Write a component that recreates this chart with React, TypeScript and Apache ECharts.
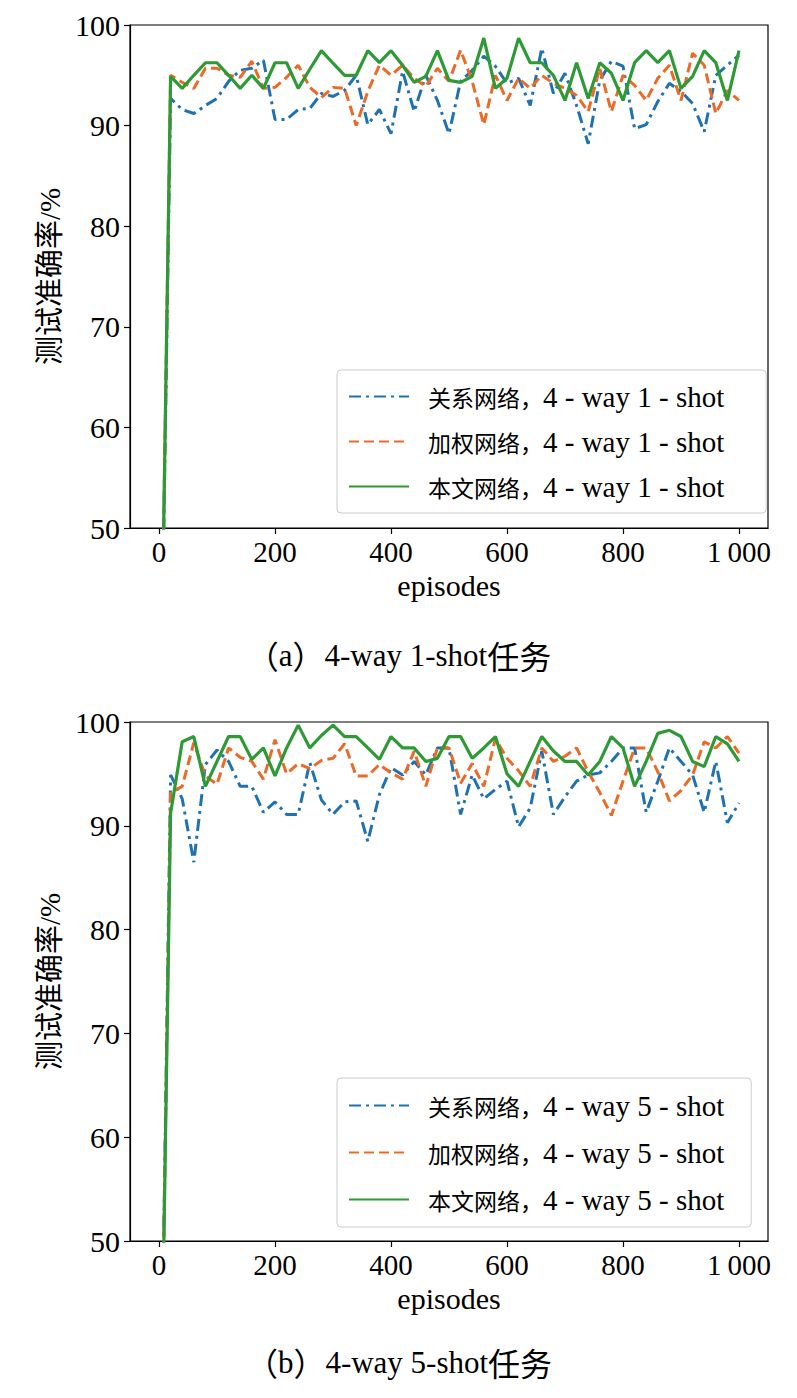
import { useEffect, useRef } from "react";
import * as echarts from "echarts";

const episodes = [
  0, 20, 40, 60, 80, 100, 120, 140, 160, 180, 200, 220, 240, 260, 280, 300, 320, 340, 360, 380,
  400, 420, 440, 460, 480, 500, 520, 540, 560, 580, 600, 620, 640, 660, 680, 700, 720, 740, 760,
  780, 800, 820, 840, 860, 880, 900, 920, 940, 960, 980, 1000,
];

// (a) 4-way 1-shot
const relation1 = [
  20, 92.7, 91.6, 91.2, 92.0, 92.7, 94.4, 95.5, 95.7, 96.5, 90.6, 90.6, 91.6, 91.7, 93.2, 92.9,
  93.5, 95.0, 90.1, 91.6, 89.2, 95.4, 91.4, 95.0, 92.5, 89.2, 94.4, 95.5, 96.9, 95.9, 94.2, 94.7,
  92.0, 97.7, 93.2, 95.2, 92.0, 88.2, 94.5, 96.4, 95.9, 89.7, 90.1, 92.4, 94.2, 93.4, 92.2, 89.4,
  95.0, 96.0, 97.0,
];
const weighted1 = [
  20, 95.0, 94.3, 93.7, 95.7, 95.7, 95.0, 94.8, 96.4, 93.7, 93.8, 94.8, 96.0, 93.8, 92.8, 93.8,
  93.7, 90.0, 93.4, 96.0, 95.0, 96.0, 94.7, 93.9, 95.7, 94.4, 97.5, 94.4, 90.1, 95.0, 92.5, 94.7,
  93.7, 95.0, 94.2, 93.7, 93.0, 91.4, 95.7, 91.4, 95.0, 94.0, 92.5, 94.7, 96.0, 92.5, 97.2, 96.0,
  91.2, 93.5, 92.5,
];
const ours1 = [
  20, 94.9, 93.7, 95.0, 96.25, 96.25, 95.0, 93.7, 95.0, 93.7, 96.25, 96.25, 93.7, 95.6, 97.45,
  96.2, 95.0, 95.0, 97.45, 96.25, 97.45, 96.0, 94.3, 94.9, 97.45, 94.5, 94.3, 94.9, 98.7, 93.7,
  94.7, 98.7, 96.25, 96.25, 95.0, 92.5, 96.25, 92.7, 96.25, 95.2, 92.5, 96.25, 97.45, 96.25,
  97.45, 93.7, 94.9, 97.45, 96.25, 92.5, 97.45,
];

// (b) 4-way 5-shot
const relation5 = [
  20, 94.9, 92.6, 86.5, 95.9, 97.3, 96.2, 93.8, 93.8, 91.3, 92.3, 91.1, 91.1, 96.1, 92.5, 91.1,
  92.3, 92.4, 88.5, 93.0, 95.6, 94.9, 96.2, 94.9, 97.5, 97.5, 91.1, 94.9, 92.6, 93.5, 94.3, 89.9,
  91.7, 97.2, 91.1, 92.8, 94.3, 94.9, 95.1, 96.2, 97.5, 97.5, 91.3, 94.3, 97.5, 96.2, 94.9, 91.3,
  96.2, 90.3, 92.2,
];
const weighted5 = [
  20, 93.2, 93.8, 98.0, 94.8, 94.0, 97.5, 96.6, 96.2, 94.5, 98.3, 95.0, 96.0, 95.5, 96.3, 96.5,
  97.9, 94.8, 94.8, 95.9, 95.1, 94.5, 97.2, 93.8, 97.5, 97.5, 94.1, 96.0, 93.8, 98.4, 96.5, 95.3,
  93.8, 97.5, 96.2, 96.7, 97.5, 95.2, 93.2, 91.0, 94.3, 97.5, 97.5, 95.2, 92.4, 93.4, 94.9, 98.1,
  97.5, 98.6, 97.0,
];
const ours5 = [
  20, 91.2, 98.1, 98.6, 93.8, 96.2, 98.6, 98.6, 96.4, 97.5, 94.8, 97.5, 99.7, 97.5, 98.7, 99.7,
  98.6, 98.6, 97.5, 96.4, 98.6, 97.5, 97.5, 96.2, 96.5, 98.6, 98.6, 96.5, 97.5, 98.6, 95.0, 93.8,
  96.2, 98.6, 97.2, 96.2, 96.2, 94.9, 96.2, 98.6, 97.5, 93.8, 96.2, 98.9, 99.2, 98.6, 96.2, 95.7,
  98.6, 97.9, 96.2,
];

const names1 = ["关系网络，4 - way 1 - shot", "加权网络，4 - way 1 - shot", "本文网络，4 - way 1 - shot"];
const names5 = ["关系网络，4 - way 5 - shot", "加权网络，4 - way 5 - shot", "本文网络，4 - way 5 - shot"];
const xTicks = [0, 200, 400, 600, 800, 1000];
const xTickLabels = ["0", "200", "400", "600", "800", "1\u2009000"];
const titleParts = [
  ["a", "4-way 1-shot", "任务"],
  ["b", "4-way 5-shot", "任务"],
];
const yName = "测试准确率/%";
const xName = "episodes";

const LATIN = "'Liberation Serif', serif";
const FONT = "'Liberation Serif', 'Noto Sans CJK SC', serif";
const CJK = "'Noto Sans CJK SC', sans-serif";
const BLUE = "#1f72b2";
const ORANGE = "#ec6a28";
const GREEN = "#2e9a35";

function legendFormatter(name: string) {
  const k = name.indexOf("，");
  return `{cn|${name.slice(0, k + 1)}}{en|${name.slice(k + 1)}}`;
}

function buildOption() {
  const grids = [
    { left: 130, top: 25, width: 638, height: 503 },
    { left: 130, top: 722, width: 638, height: 519 },
  ];
  const xAxes = grids.map((_, i) => ({
    type: "value",
    gridIndex: i,
    min: -50,
    max: 1050,
    name: xName,
    nameLocation: "middle",
    nameGap: 42,
    nameTextStyle: { fontFamily: LATIN, fontSize: 30, color: "#000" },
    axisLine: { show: true, onZero: false, lineStyle: { color: "#000", width: 1.2 } },
    axisTick: { show: true, length: 6, customValues: xTicks, lineStyle: { color: "#000", width: 1.2 } },
    axisLabel: {
      customValues: xTicks,
      formatter: (v: number) => xTickLabels[xTicks.indexOf(v)] ?? "",
      fontFamily: LATIN,
      fontSize: 29,
      color: "#000",
      margin: 9,
    },
    splitLine: { show: false },
  }));
  const yAxes = grids.map((_, i) => ({
    type: "value",
    gridIndex: i,
    min: 50,
    max: 100,
    interval: 10,
    name: yName,
    nameLocation: "middle",
    nameRotate: 90,
    nameGap: 58,
    nameTextStyle: { fontFamily: FONT, fontSize: 29, color: "#000" },
    axisLine: { show: true, onZero: false, lineStyle: { color: "#000", width: 1.2 } },
    axisTick: { show: true, length: 6, lineStyle: { color: "#000", width: 1.2 } },
    axisLabel: { fontFamily: LATIN, fontSize: 30, color: "#000", margin: 10 },
    splitLine: { show: false },
  }));

  const mk = (name: string, vals: number[], idx: number, color: string, type: any, width: number) => ({
    type: "line",
    name,
    xAxisIndex: idx,
    yAxisIndex: idx,
    data: episodes.map((e, k) => [e, vals[k]]),
    symbol: "none",
    showSymbol: false,
    clip: true,
    itemStyle: { color },
    lineStyle: { color, width, type, cap: "butt" },
  });

  const dashDot = [12, 5, 3, 5];
  const dashed = [10, 5];
  const series = [
    mk(names1[0], relation1, 0, BLUE, dashDot, 3),
    mk(names1[1], weighted1, 0, ORANGE, dashed, 3),
    mk(names1[2], ours1, 0, GREEN, "solid", 3.2),
    mk(names5[0], relation5, 1, BLUE, dashDot, 3),
    mk(names5[1], weighted5, 1, ORANGE, dashed, 3),
    mk(names5[2], ours5, 1, GREEN, "solid", 3.2),
  ];

  const legendBase = {
    orient: "vertical",
    itemWidth: 60,
    itemHeight: 14,
    borderColor: "#cccccc",
    borderWidth: 1,
    borderRadius: 4,
    itemStyle: { color: "rgba(0,0,0,0)", borderColor: "rgba(0,0,0,0)", borderWidth: 0, opacity: 0 },
    formatter: legendFormatter,
    textStyle: {
      color: "#000",
      padding: [0, 0, 0, 14],
      rich: {
        cn: { fontFamily: CJK, fontSize: 23, color: "#000" },
        en: { fontFamily: LATIN, fontSize: 29, color: "#000" },
      },
    },
  };

  const titleRich = {
    cn: { fontFamily: CJK, fontSize: 32, fill: "#000", color: "#000" },
    en: { fontFamily: LATIN, fontSize: 31, fill: "#000", color: "#000" },
  };
  const titleText = (p: string[]) => `{cn|（}{en|${p[0]}}{cn|）}{en|${p[1]}}{cn|${p[2]}}`;

  return {
    animation: false,
    backgroundColor: "#fff",
    grid: grids.map((g) => ({ ...g, show: true, borderColor: "#000", borderWidth: 1.2, backgroundColor: "transparent" })),
    xAxis: xAxes,
    yAxis: yAxes,
    legend: [
      { ...legendBase, data: names1, left: 337, top: 370, itemGap: 16, padding: [12, 42, 12, 11] },
      { ...legendBase, data: names5, left: 337, top: 1078, itemGap: 18, padding: [13, 27, 13, 11] },
    ],
    series,
    graphic: [
      {
        type: "text",
        x: 399,
        y: 655,
        style: { text: titleText(titleParts[0]), rich: titleRich, fill: "#000", align: "center", verticalAlign: "middle" },
      },
      {
        type: "text",
        x: 399,
        y: 1362,
        style: { text: titleText(titleParts[1]), rich: titleRich, fill: "#000", align: "center", verticalAlign: "middle" },
      },
    ],
  };
}

export default function App() {
  const ref = useRef<HTMLDivElement>(null);
  useEffect(() => {
    if (!ref.current) return;
    const chart = echarts.init(ref.current, null, { renderer: "svg" });
    chart.setOption(buildOption() as any);
    return () => chart.dispose();
  }, []);
  return (
    <div
      ref={ref}
      style={{ position: "absolute", left: 0, top: 0, width: 797, height: 1398, background: "#fff" }}
    />
  );
}
